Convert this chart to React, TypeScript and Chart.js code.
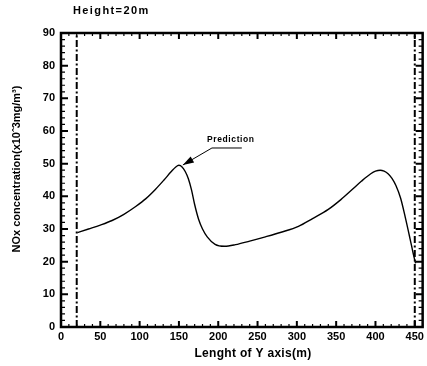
import React, { useEffect, useRef } from "react";
import { Chart, registerables } from "chart.js";
Chart.register(...registerables);

const chartTitle = "Height=20m";
const xAxisTitle = "Lenght of Y axis(m)";
const yAxisTitle = "NOx concentration(x10ˆ3mg/m³)";
const annotationText = "Prediction";

const curveX = [21, 35, 50, 65, 80, 95, 108, 120, 131, 140, 146, 150, 154, 158, 162, 166, 170, 175, 180, 186, 196, 208, 222, 240, 260, 280, 302, 320, 340, 356, 370, 382, 394, 400, 406, 411, 416, 421, 426, 432, 438, 444, 448, 451];
const curveY = [28.9, 30.0, 31.2, 32.6, 34.5, 36.9, 39.3, 42.1, 45.0, 47.5, 49.0, 49.5, 49.0, 47.6, 45.4, 42.0, 37.5, 33.0, 30.0, 27.6, 25.3, 24.7, 25.2, 26.3, 27.6, 29.0, 30.8, 33.2, 36.0, 39.0, 42.0, 44.6, 46.9, 47.7, 48.0, 47.7, 46.9, 45.5, 43.3, 39.4, 33.5, 27.0, 22.5, 19.5];

const boundaryX = [20, 450];
const boundaryY = [0, 90];

const xRange = [0, 460];
const yRange = [0, 90];
const xMajorStep = 50;
const xMinorStep = 10;
const yMajorStep = 10;
const yMinorStep = 2;

// annotation anchor points in data units: arrow tip, elbow, underline end, text origin
const arrowTip = [155, 49.6];
const arrowElbow = [192, 54.8];
const underlineEnd = [230, 54.8];
const textAnchor = [185.8, 57.2];

const FONT = "'Liberation Sans', Arial, sans-serif";

const framePlugin = {
  id: "frameAndText",
  afterDatasetsDraw(chart: any) {
    const { ctx, chartArea: a } = chart;
    const xs = chart.scales.x;
    const ys = chart.scales.y;
    ctx.save();
    ctx.strokeStyle = "#000";
    ctx.fillStyle = "#000";
    ctx.lineCap = "butt";
    for (let v = xRange[0]; v <= xRange[1] + 0.001; v += xMinorStep) {
      const major = Math.abs(v % xMajorStep) < 0.001;
      const px = xs.getPixelForValue(v);
      const len = major ? 6 : 3;
      ctx.lineWidth = major ? 2 : 1.2;
      ctx.beginPath();
      ctx.moveTo(px, a.bottom);
      ctx.lineTo(px, a.bottom - len);
      ctx.moveTo(px, a.top);
      ctx.lineTo(px, a.top + len);
      ctx.stroke();
    }
    for (let v = yRange[0]; v <= yRange[1] + 0.001; v += yMinorStep) {
      const major = Math.abs(v % yMajorStep) < 0.001;
      const py = ys.getPixelForValue(v);
      const len = major ? 7 : 4;
      ctx.lineWidth = major ? 2 : 1.2;
      ctx.beginPath();
      ctx.moveTo(a.left, py);
      ctx.lineTo(a.left + len, py);
      ctx.moveTo(a.right, py);
      ctx.lineTo(a.right - len, py);
      ctx.stroke();
    }
    ctx.lineWidth = 2.5;
    ctx.strokeRect(a.left, a.top, a.right - a.left, a.bottom - a.top);

    const tx = xs.getPixelForValue(arrowTip[0]);
    const ty = ys.getPixelForValue(arrowTip[1]);
    const ex = xs.getPixelForValue(arrowElbow[0]);
    const ey = ys.getPixelForValue(arrowElbow[1]);
    const ux = xs.getPixelForValue(underlineEnd[0]);
    const uy = ys.getPixelForValue(underlineEnd[1]);
    ctx.lineWidth = 1;
    ctx.beginPath();
    ctx.moveTo(ux, uy);
    ctx.lineTo(ex, ey);
    ctx.lineTo(tx, ty);
    ctx.stroke();
    const ang = Math.atan2(ty - ey, tx - ex);
    const hl = 11, hw = 3.5;
    ctx.beginPath();
    ctx.moveTo(tx, ty);
    ctx.lineTo(tx - hl * Math.cos(ang) + hw * Math.sin(ang), ty - hl * Math.sin(ang) - hw * Math.cos(ang));
    ctx.lineTo(tx - hl * Math.cos(ang) - hw * Math.sin(ang), ty - hl * Math.sin(ang) + hw * Math.cos(ang));
    ctx.closePath();
    ctx.fill();

    ctx.font = `bold 8.5px ${FONT}`;
    ctx.textAlign = "left";
    ctx.textBaseline = "middle";
    (ctx as any).letterSpacing = "0.6px";
    ctx.fillText(annotationText, xs.getPixelForValue(textAnchor[0]), ys.getPixelForValue(textAnchor[1]));

    ctx.font = `bold 11px ${FONT}`;
    (ctx as any).letterSpacing = "1.4px";
    ctx.textAlign = "left";
    ctx.fillText(chartTitle, 73, 11);

    ctx.font = `bold 12px ${FONT}`;
    (ctx as any).letterSpacing = "0.3px";
    ctx.textAlign = "center";
    ctx.fillText(xAxisTitle, 253, 354);

    ctx.save();
    ctx.translate(17, 169);
    ctx.rotate(-Math.PI / 2);
    ctx.font = `bold 11px ${FONT}`;
    (ctx as any).letterSpacing = "0px";
    ctx.textAlign = "center";
    ctx.fillText(yAxisTitle, 0, 0);
    ctx.restore();

    ctx.restore();
  },
};

export default function App() {
  const ref = useRef<HTMLCanvasElement | null>(null);
  useEffect(() => {
    if (!ref.current) return;
    const curve = curveX.map((x, i) => ({ x, y: curveY[i] }));
    const boundaries = boundaryX.map((bx) => ({
      type: "line" as const,
      data: boundaryY.map((by) => ({ x: bx, y: by })),
      borderColor: "#000",
      borderWidth: 2,
      borderDash: [7, 2.5, 2, 2.5],
      pointRadius: 0,
      fill: false,
    }));
    const chart = new Chart(ref.current, {
      type: "line",
      data: {
        datasets: [
          {
            data: curve,
            borderColor: "#000",
            borderWidth: 1.4,
            pointRadius: 0,
            fill: false,
            cubicInterpolationMode: "monotone",
          },
          ...boundaries,
        ],
      },
      options: {
        animation: false,
        responsive: false,
        layout: { padding: { top: 33, right: 2, bottom: 0, left: 0 } },
        plugins: { legend: { display: false }, tooltip: { enabled: false }, title: { display: false } },
        scales: {
          x: {
            type: "linear",
            min: xRange[0],
            max: xRange[1],
            grid: { display: false, drawTicks: false },
            border: { display: false },
            ticks: {
              stepSize: xMajorStep,
              includeBounds: false,
              color: "#000",
              padding: 3,
              maxRotation: 0,
              autoSkip: false,
              font: { family: FONT, size: 11, weight: "bold" },
            },
            afterFit(s: any) {
              s.height = 39;
            },
          },
          y: {
            type: "linear",
            min: yRange[0],
            max: yRange[1],
            grid: { display: false, drawTicks: false },
            border: { display: false },
            ticks: {
              stepSize: yMajorStep,
              color: "#000",
              padding: 6,
              font: { family: FONT, size: 11, weight: "bold" },
            },
            afterFit(s: any) {
              s.width = 61;
            },
          },
        },
      } as any,
      plugins: [framePlugin],
    });
    return () => chart.destroy();
  }, []);
  return (
    <div style={{ position: "fixed", left: 0, top: 0, width: 427, height: 366, background: "#fff" }}>
      <canvas ref={ref} width={427} height={366} style={{ display: "block" }} />
    </div>
  );
}
